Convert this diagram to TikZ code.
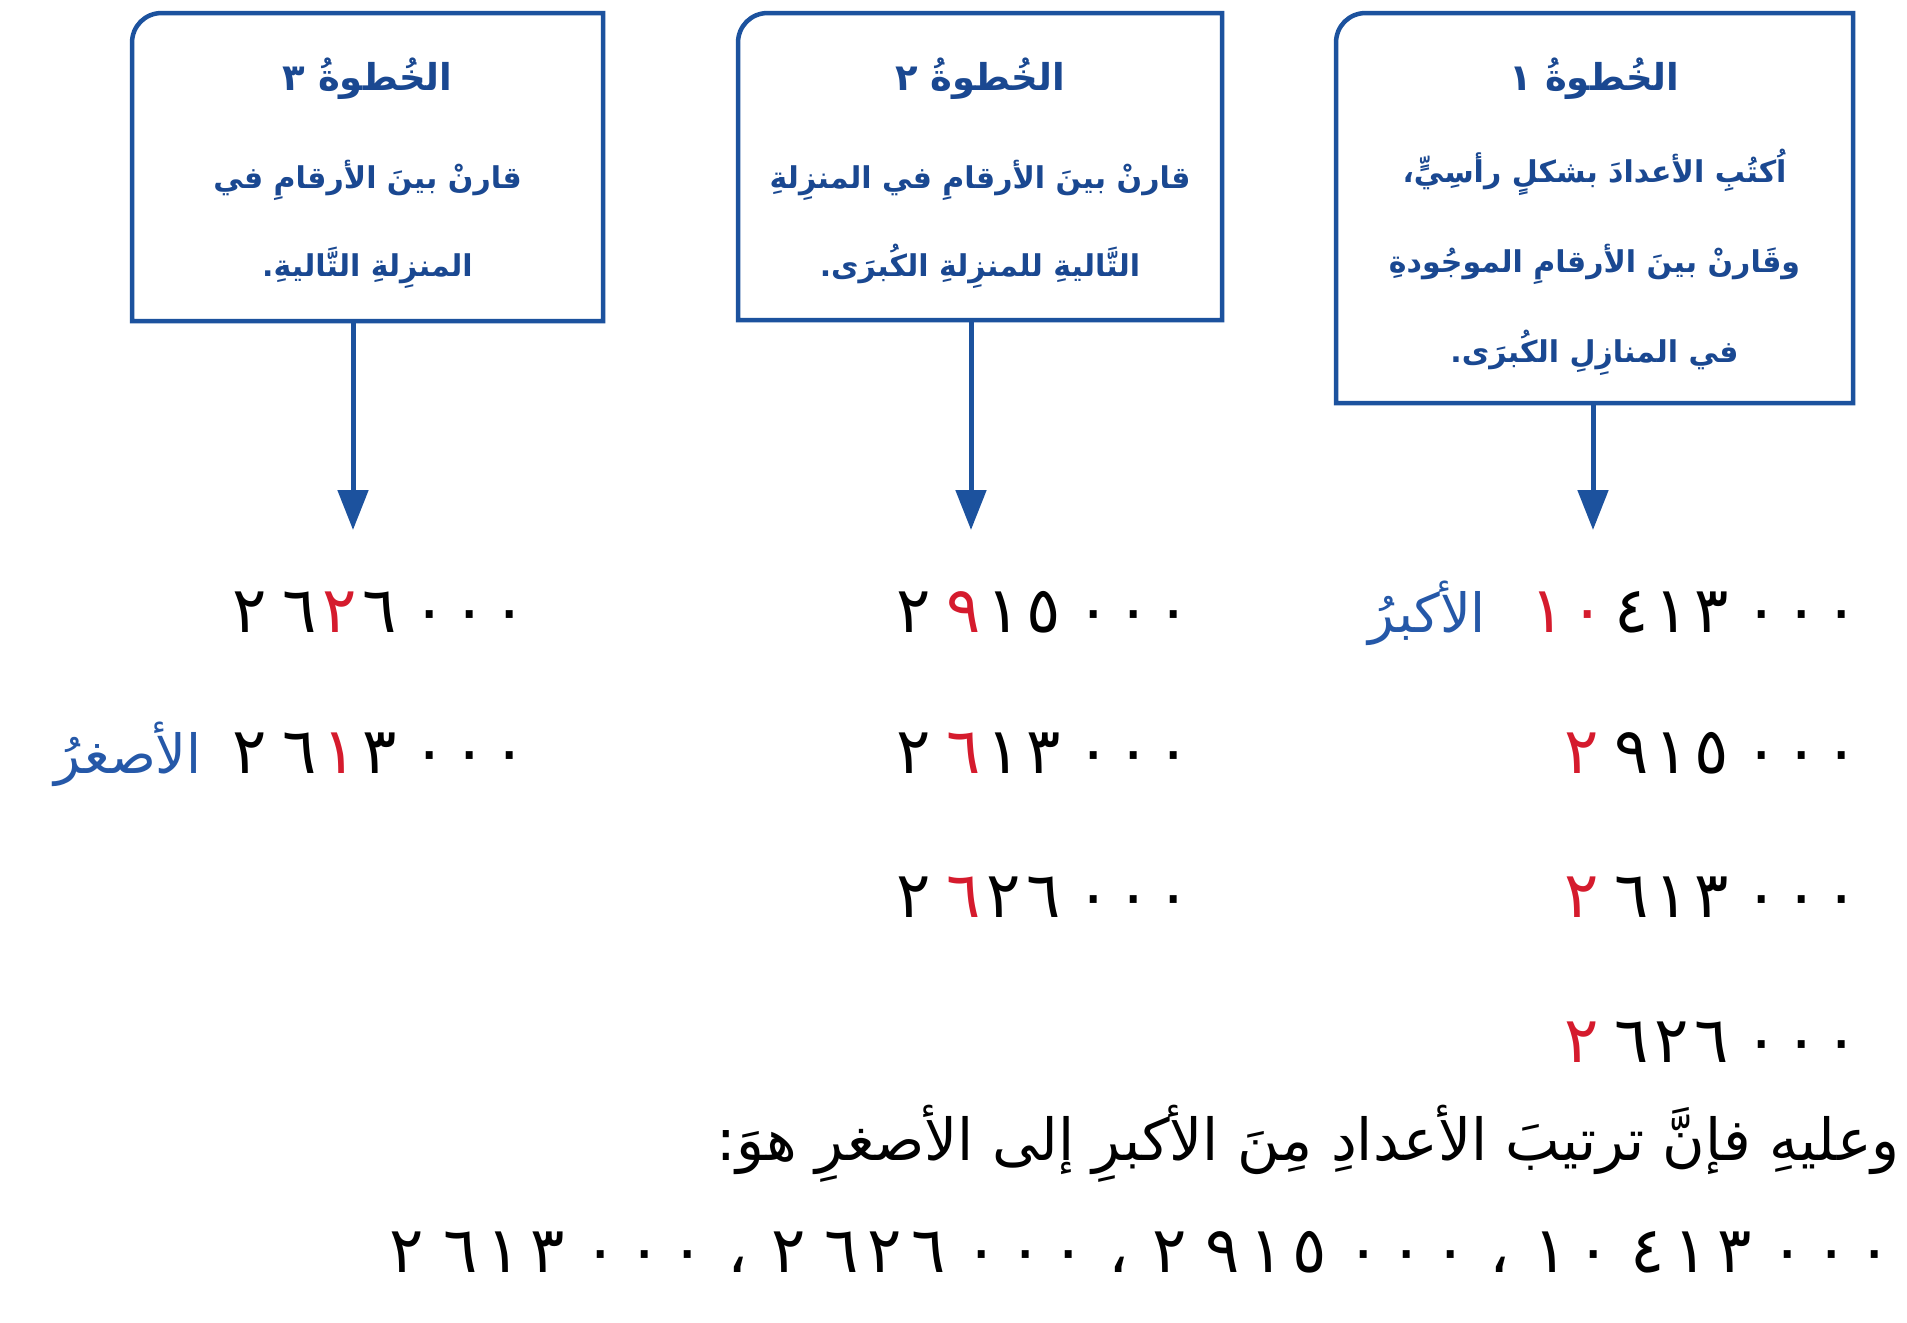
\documentclass[tikz,border=0pt]{standalone}
\usepackage{fontspec}
\usetikzlibrary{arrows.meta}
\TeXXeTstate=1
\newfontfamily\arabreg[Script=Arabic]{DejaVu Sans}
\newfontfamily\arabbold[Script=Arabic]{DejaVu Sans Bold}
\definecolor{boxblue}{RGB}{28,82,158}
\definecolor{txtblue}{RGB}{26,72,145}
\definecolor{wordblue}{RGB}{37,88,168}
\definecolor{numred}{RGB}{213,27,45}
\newlength\dgw \setlength\dgw{40pt}
\newcommand\dg[1]{\makebox[\dgw]{#1}}
\newcommand\rg[1]{\makebox[\dgw]{\textcolor{numred}{#1}}}
\newcommand\gp{\hspace{10pt}}
\newcommand\cm{\hspace{18pt}،\hspace{18pt}}
\tikzset{
  frame/.style={draw=none,inner sep=0pt,outer sep=0pt},
  boxline/.style={draw=boxblue,line width=4.5pt,line join=miter},
  arrowline/.style={draw=boxblue,line width=5pt,-{Triangle[length=40pt,width=30pt]}},
  steptitle/.style={font=\arabbold\fontsize{37}{40}\selectfont,text=txtblue,anchor=base,inner sep=0pt},
  stepline/.style={font=\arabbold\fontsize{30}{34}\selectfont,text=txtblue,anchor=base,inner sep=0pt},
  numrow/.style={font=\arabreg\fontsize{64}{64}\selectfont,text=black,anchor=base east,inner sep=0pt},
  bigword/.style={font=\arabreg\fontsize{54}{54}\selectfont,text=wordblue,anchor=base east,inner sep=0pt},
  sentence/.style={font=\arabreg\fontsize{58}{60}\selectfont,text=black,anchor=base east,inner sep=0pt}
}
\newcommand\stepoutline[1]{%
  \draw[boxline] (#1.south west) -- ([yshift=-30pt]#1.north west)
    .. controls ([yshift=-13pt]#1.north west) and ([xshift=13pt]#1.north west) ..
    ([xshift=30pt]#1.north west) -- (#1.north east) -- (#1.south east) -- cycle;}
\begin{document}
\begin{tikzpicture}[x=1pt,y=-1pt]
\useasboundingbox[fill=white] (0,0) rectangle (1907,1323);
% frames
\node[frame,minimum width=517pt,minimum height=390pt] (s1) at (1594.5,208) {};
\node[frame,minimum width=484pt,minimum height=307pt] (s2) at (980,166.5) {};
\node[frame,minimum width=471pt,minimum height=308pt] (s3) at (367.5,167) {};
\stepoutline{s1}
\stepoutline{s2}
\stepoutline{s3}
% step 1 text
\node[steptitle] (s1t) at (1594.5,90) {\beginR الخُطوةُ ١\endR};
\node[stepline] (s1a) at (1594.5,182) {\beginR اُكتُبِ الأعدادَ بشكلٍ رأسِيٍّ،\endR};
\node[stepline] (s1b) at (1594.5,272) {\beginR وقَارنْ بينَ الأرقامِ الموجُودةِ\endR};
\node[stepline] (s1c) at (1594.5,362) {\beginR في المنازِلِ الكُبرَى.\endR};
% step 2 text
\node[steptitle] (s2t) at (980,90) {\beginR الخُطوةُ ٢\endR};
\node[stepline] (s2a) at (980,188) {\beginR قارنْ بينَ الأرقامِ في المنزِلةِ\endR};
\node[stepline] (s2b) at (980,276) {\beginR التَّاليةِ للمنزِلةِ الكُبرَى.\endR};
% step 3 text
\node[steptitle] (s3t) at (367.5,90) {\beginR الخُطوةُ ٣\endR};
\node[stepline] (s3a) at (367.5,188) {\beginR قارنْ بينَ الأرقامِ في\endR};
\node[stepline] (s3b) at (367.5,276) {\beginR المنزِلةِ التَّاليةِ.\endR};
% arrows
\coordinate (a1) at (1593,530);
\coordinate (a2) at (971,530);
\coordinate (a3) at (353,530);
\draw[arrowline] (s1.south -| a1) -- (a1);
\draw[arrowline] (s2.south -| a2) -- (a2);
\draw[arrowline] (s3.south -| a3) -- (a3);
% column 1
\node[numrow] (n11) at (1862,632) {\rg{١}\rg{٠}\hspace{4pt}\dg{٤}\dg{١}\dg{٣}\gp\dg{٠}\dg{٠}\dg{٠}};
\node[bigword] (big) at (1486,632) {\beginR الأكبرُ\endR};
\node[numrow] (n12) at (1862,773) {\rg{٢}\gp\dg{٩}\dg{١}\dg{٥}\gp\dg{٠}\dg{٠}\dg{٠}};
\node[numrow] (n13) at (1862,917) {\rg{٢}\gp\dg{٦}\dg{١}\dg{٣}\gp\dg{٠}\dg{٠}\dg{٠}};
\node[numrow] (n14) at (1862,1062) {\rg{٢}\gp\dg{٦}\dg{٢}\dg{٦}\gp\dg{٠}\dg{٠}\dg{٠}};
% column 2
\node[numrow] (n21) at (1194,632) {\dg{٢}\gp\rg{٩}\dg{١}\dg{٥}\gp\dg{٠}\dg{٠}\dg{٠}};
\node[numrow] (n22) at (1194,773) {\dg{٢}\gp\rg{٦}\dg{١}\dg{٣}\gp\dg{٠}\dg{٠}\dg{٠}};
\node[numrow] (n23) at (1194,917) {\dg{٢}\gp\rg{٦}\dg{٢}\dg{٦}\gp\dg{٠}\dg{٠}\dg{٠}};
% column 3
\node[numrow] (n31) at (530,632) {\dg{٢}\gp\dg{٦}\rg{٢}\dg{٦}\gp\dg{٠}\dg{٠}\dg{٠}};
\node[numrow] (n32) at (530,773) {\dg{٢}\gp\dg{٦}\rg{١}\dg{٣}\gp\dg{٠}\dg{٠}\dg{٠}};
\node[bigword] (small) at (202,773) {\beginR الأصغرُ\endR};
% conclusion
\node[sentence] (conc) at (1900,1160) {\beginR وعليهِ فإنَّ ترتيبَ الأعدادِ مِنَ الأكبرِ إلى الأصغرِ هوَ:\endR};
\setlength\dgw{43.5pt}
\node[numrow] (order) at (1897,1272) {\beginR\beginL\dg{١}\dg{٠}\gp\dg{٤}\dg{١}\dg{٣}\gp\dg{٠}\dg{٠}\dg{٠}\endL\cm\beginL\dg{٢}\gp\dg{٩}\dg{١}\dg{٥}\gp\dg{٠}\dg{٠}\dg{٠}\endL\cm\beginL\dg{٢}\gp\dg{٦}\dg{٢}\dg{٦}\gp\dg{٠}\dg{٠}\dg{٠}\endL\cm\beginL\dg{٢}\gp\dg{٦}\dg{١}\dg{٣}\gp\dg{٠}\dg{٠}\dg{٠}\endL\endR};
\end{tikzpicture}
\end{document}
